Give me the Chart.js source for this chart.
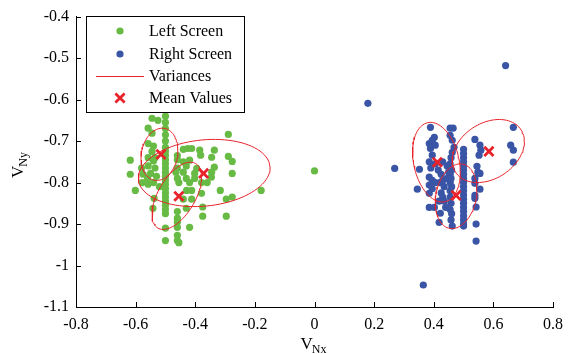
<!DOCTYPE html>
<html>
<head>
<meta charset="utf-8">
<script src="https://cdn.jsdelivr.net/npm/chart.js@4/dist/chart.umd.min.js"></script>
<style>
  html, body { margin: 0; padding: 0; background: #fff; }
  #grafico { display: block; }
</style>
</head>
<body>
<canvas id="grafico" width="571" height="354"></canvas>
<script>
// Datos leídos a ojo de la figura original (V_Nx, V_Ny)

const pantallaIzq = [
  [-0.50,-0.64],[-0.50,-0.655],[-0.50,-0.67],[-0.50,-0.685],[-0.50,-0.70],[-0.50,-0.715],
  [-0.50,-0.725],[-0.50,-0.735],[-0.50,-0.745],[-0.50,-0.755],[-0.50,-0.765],[-0.50,-0.775],
  [-0.50,-0.785],[-0.50,-0.795],[-0.50,-0.805],[-0.50,-0.815],[-0.50,-0.825],[-0.50,-0.835],
  [-0.50,-0.845],[-0.50,-0.855],[-0.50,-0.865],[-0.50,-0.875],[-0.50,-0.91],[-0.50,-0.94],
  [-0.46,-0.735],[-0.46,-0.745],[-0.46,-0.765],[-0.465,-0.775],[-0.46,-0.79],[-0.455,-0.80],
  [-0.46,-0.87],[-0.46,-0.886],[-0.46,-0.896],[-0.46,-0.908],[-0.46,-0.927],[-0.46,-0.94],[-0.455,-0.945],
  [-0.545,-0.645],[-0.525,-0.65],[-0.558,-0.669],[-0.545,-0.681],[-0.558,-0.706],[-0.54,-0.712],
  [-0.545,-0.725],[-0.535,-0.74],[-0.558,-0.74],[-0.54,-0.748],[-0.558,-0.76],[-0.535,-0.765],
  [-0.55,-0.778],[-0.53,-0.785],[-0.56,-0.79],[-0.54,-0.80],[-0.578,-0.80],[-0.558,-0.804],
  [-0.538,-0.838],[-0.542,-0.862],[-0.52,-0.81],
  [-0.618,-0.746],[-0.618,-0.78],[-0.601,-0.819],[-0.58,-0.765],[-0.575,-0.78],
  [-0.44,-0.72],[-0.425,-0.718],[-0.412,-0.718],[-0.44,-0.75],[-0.43,-0.76],[-0.419,-0.746],
  [-0.395,-0.766],[-0.402,-0.778],[-0.44,-0.775],[-0.43,-0.79],[-0.402,-0.79],[-0.419,-0.80],
  [-0.429,-0.819],[-0.412,-0.819],[-0.412,-0.84],[-0.43,-0.862],[-0.419,-0.908],[-0.44,-0.84],
  [-0.385,-0.722],[-0.382,-0.734],[-0.379,-0.80],[-0.379,-0.826],[-0.375,-0.859],[-0.375,-0.881],[-0.36,-0.80],
  [-0.336,-0.722],[-0.345,-0.739],[-0.336,-0.763],[-0.345,-0.775],[-0.346,-0.787],
  [-0.289,-0.684],[-0.289,-0.737],[-0.276,-0.749],[-0.276,-0.778],[-0.316,-0.819],
  [-0.296,-0.84],[-0.276,-0.835],[-0.296,-0.881],
  [-0.179,-0.819],[0.0,-0.772]
];

const pantallaDer = [
  [0.50,-0.72],[0.50,-0.73],[0.50,-0.74],[0.50,-0.75],[0.50,-0.76],[0.50,-0.77],[0.50,-0.78],
  [0.50,-0.79],[0.50,-0.80],[0.50,-0.81],[0.50,-0.82],[0.50,-0.83],[0.50,-0.84],[0.50,-0.85],
  [0.50,-0.86],[0.50,-0.87],[0.50,-0.88],[0.50,-0.89],[0.50,-0.90],[0.50,-0.905],
  [0.455,-0.669],[0.465,-0.669],[0.455,-0.686],[0.462,-0.698],[0.468,-0.715],[0.462,-0.727],
  [0.458,-0.74],[0.455,-0.755],[0.46,-0.77],[0.455,-0.78],[0.458,-0.79],[0.455,-0.80],
  [0.46,-0.81],[0.455,-0.82],[0.455,-0.835],[0.458,-0.85],[0.455,-0.865],[0.46,-0.875],
  [0.458,-0.89],[0.462,-0.905],[0.445,-0.76],[0.45,-0.775],[0.445,-0.79],
  [0.538,-0.696],[0.555,-0.71],[0.558,-0.722],[0.552,-0.734],[0.545,-0.761],[0.555,-0.778],
  [0.538,-0.79],[0.538,-0.802],[0.555,-0.816],[0.538,-0.831],[0.538,-0.838],[0.542,-0.859],
  [0.542,-0.90],[0.542,-0.941],[0.548,-0.775],
  [0.389,-0.667],[0.402,-0.691],[0.395,-0.698],[0.385,-0.706],[0.405,-0.71],[0.389,-0.718],
  [0.395,-0.734],[0.385,-0.75],[0.405,-0.755],[0.39,-0.765],[0.385,-0.787],[0.395,-0.795],
  [0.405,-0.80],[0.385,-0.806],[0.395,-0.815],[0.385,-0.826],[0.385,-0.86],[0.402,-0.86],
  [0.415,-0.77],[0.425,-0.78],[0.43,-0.795],[0.42,-0.80],[0.435,-0.81],[0.425,-0.825],
  [0.43,-0.835],[0.435,-0.845],[0.418,-0.845],[0.422,-0.874],[0.418,-0.896],[0.44,-0.86],[0.43,-0.75],
  [0.352,-0.768],[0.345,-0.816],
  [0.667,-0.667],[0.658,-0.71],[0.667,-0.722],[0.667,-0.751],
  [0.641,-0.518],[0.179,-0.609],[0.269,-0.766],[0.365,-1.047]
];

const valoresMedios = [
  [-0.515,-0.732],[-0.455,-0.833],[-0.372,-0.778],
  [0.412,-0.751],[0.475,-0.831],[0.585,-0.725]
];

// Elipses de varianza: centro, desviaciones y correlación
const elipseCx = [-0.52, -0.462, -0.37, 0.409, 0.475, 0.583];
const elipseCy = [-0.732, -0.832, -0.777, -0.751, -0.833, -0.724];
const elipseSx = [0.062, 0.083, 0.221, 0.080, 0.070, 0.121];
const elipseSy = [0.063, 0.081, 0.081, 0.096, 0.078, 0.076];
const elipseR  = [0.15, 0.55, 0.15, -0.25, 0.2, 0.3];

const ticksX = [-0.8, -0.6, -0.4, -0.2, 0, 0.2, 0.4, 0.6, 0.8];
const etiquetasX = ["-0.8", "-0.6", "-0.4", "-0.2", "0", "0.2", "0.4", "0.6", "0.8"];
const ticksY = [-1.1, -1, -0.9, -0.8, -0.7, -0.6, -0.5, -0.4];
const etiquetasY = ["-1.1", "-1", "-0.9", "-0.8", "-0.7", "-0.6", "-0.5", "-0.4"];

const leyenda = ["Left Screen", "Right Screen", "Variances", "Mean Values"];

const VERDE = "#67bb45";
const AZUL = "#3a55a5";
const ROJO = "#e8232b";
const FUENTE = "'Liberation Serif', 'Times New Roman', serif";
const RADIO_PUNTO = 3.6;

function contornoElipse(i) {
  const pts = [];
  const n = 90;
  const r = elipseR[i];
  for (let k = 0; k <= n; k++) {
    const t = (k / n) * 2 * Math.PI;
    pts.push({
      x: elipseCx[i] + elipseSx[i] * Math.cos(t),
      y: elipseCy[i] + elipseSy[i] * (r * Math.cos(t) + Math.sqrt(1 - r * r) * Math.sin(t)),
    });
  }
  return pts;
}

const aXY = arr => arr.map(p => ({ x: p[0], y: p[1] }));

const datasets = [
  {
    label: leyenda[0], data: aXY(pantallaIzq), order: 4,
    pointRadius: RADIO_PUNTO, pointBackgroundColor: VERDE, pointBorderWidth: 0, showLine: false,
  },
  {
    label: leyenda[1], data: aXY(pantallaDer), order: 3,
    pointRadius: RADIO_PUNTO, pointBackgroundColor: AZUL, pointBorderWidth: 0, showLine: false,
  },
];
elipseCx.forEach((_, i) => {
  datasets.push({
    label: leyenda[2], data: contornoElipse(i), order: 2, type: "line",
    showLine: true, borderColor: ROJO, borderWidth: 1, pointRadius: 0, fill: false, tension: 0,
  });
});
datasets.push({
  label: leyenda[3], data: aXY(valoresMedios), order: 1,
  pointStyle: "crossRot", pointRadius: 6.5, pointBorderColor: ROJO, pointBorderWidth: 2.8, showLine: false,
});

// ticks hacia adentro, estilo MATLAB, y títulos con subíndice
const extrasEjes = {
  id: "extrasEjes",
  afterDraw(chart) {
    const { ctx, chartArea: a, scales: { x, y } } = chart;
    ctx.save();
    ctx.strokeStyle = "#000";
    ctx.lineWidth = 1;
    ctx.beginPath();
    ticksX.forEach(v => {
      const px = Math.round(x.getPixelForValue(v)) + 0.5;
      ctx.moveTo(px, a.bottom); ctx.lineTo(px, a.bottom - 5);
    });
    ticksY.forEach(v => {
      const py = Math.round(y.getPixelForValue(v)) + 0.5;
      ctx.moveTo(a.left, py); ctx.lineTo(a.left + 5, py);
    });
    ctx.stroke();

    // título X
    ctx.fillStyle = "#000";
    ctx.textBaseline = "alphabetic";
    ctx.font = "17px " + FUENTE;
    const cx = (a.left + a.right) / 2 - 14;
    ctx.fillText("V", cx, 349);
    const wV = ctx.measureText("V").width;
    ctx.font = "12px " + FUENTE;
    ctx.fillText("Nx", cx + wV - 1, 353);

    // título Y (rotado)
    ctx.translate(23, 178);
    ctx.rotate(-Math.PI / 2);
    ctx.font = "17px " + FUENTE;
    ctx.fillText("V", 0, 0);
    ctx.font = "12px " + FUENTE;
    ctx.fillText("Ny", wV - 1, 4);
    ctx.restore();

    // leyenda
    ctx.save();
    const lx = 86.5, ly = 16.5, lw = 158, lh = 96;
    ctx.fillStyle = "#fff";
    ctx.fillRect(lx, ly, lw, lh);
    ctx.strokeStyle = "#000";
    ctx.strokeRect(lx, ly, lw, lh);
    const filas = [31, 54, 76, 98];
    const mx = 120, tx = 149;
    ctx.fillStyle = VERDE;
    ctx.beginPath(); ctx.arc(mx, filas[0], RADIO_PUNTO, 0, 2 * Math.PI); ctx.fill();
    ctx.fillStyle = AZUL;
    ctx.beginPath(); ctx.arc(mx, filas[1], RADIO_PUNTO, 0, 2 * Math.PI); ctx.fill();
    ctx.strokeStyle = ROJO;
    ctx.lineWidth = 1;
    ctx.beginPath(); ctx.moveTo(96, filas[2] + 0.5); ctx.lineTo(144, filas[2] + 0.5); ctx.stroke();
    ctx.lineWidth = 2.8;
    ctx.beginPath();
    ctx.moveTo(mx - 4.6, filas[3] - 4.6); ctx.lineTo(mx + 4.6, filas[3] + 4.6);
    ctx.moveTo(mx + 4.6, filas[3] - 4.6); ctx.lineTo(mx - 4.6, filas[3] + 4.6);
    ctx.stroke();
    ctx.fillStyle = "#000";
    ctx.font = "16px " + FUENTE;
    ctx.textBaseline = "middle";
    leyenda.forEach((t, i) => ctx.fillText(t, tx, filas[i] + 1));
    ctx.restore();
  },
};

new Chart(document.getElementById("grafico"), {
  type: "scatter",
  data: { datasets },
  options: {
    responsive: false,
    animation: false,
    devicePixelRatio: 1,
    layout: { padding: { top: 16, right: 14, left: 0, bottom: 0 } },
    plugins: { legend: { display: false }, tooltip: { enabled: false } },
    scales: {
      x: {
        type: "linear", min: -0.8, max: 0.8,
        afterBuildTicks: s => { s.ticks = ticksX.map(v => ({ value: v })); },
        afterFit: s => { s.height = 47; },
        grid: { display: false, drawTicks: false },
        border: { display: true, color: "#000", width: 1 },
        ticks: {
          color: "#000", padding: 8, maxRotation: 0,
          font: { family: FUENTE, size: 16 },
          callback: (v, i) => etiquetasX[i],
        },
      },
      y: {
        type: "linear", min: -1.1, max: -0.4,
        afterBuildTicks: s => { s.ticks = ticksY.map(v => ({ value: v })); },
        afterFit: s => { s.width = 76; },
        grid: { display: false, drawTicks: false },
        border: { display: true, color: "#000", width: 1 },
        ticks: {
          color: "#000", padding: 7,
          font: { family: FUENTE, size: 16 },
          callback: (v, i) => etiquetasY[i],
        },
      },
    },
  },
  plugins: [extrasEjes],
});
</script>
</body>
</html>
